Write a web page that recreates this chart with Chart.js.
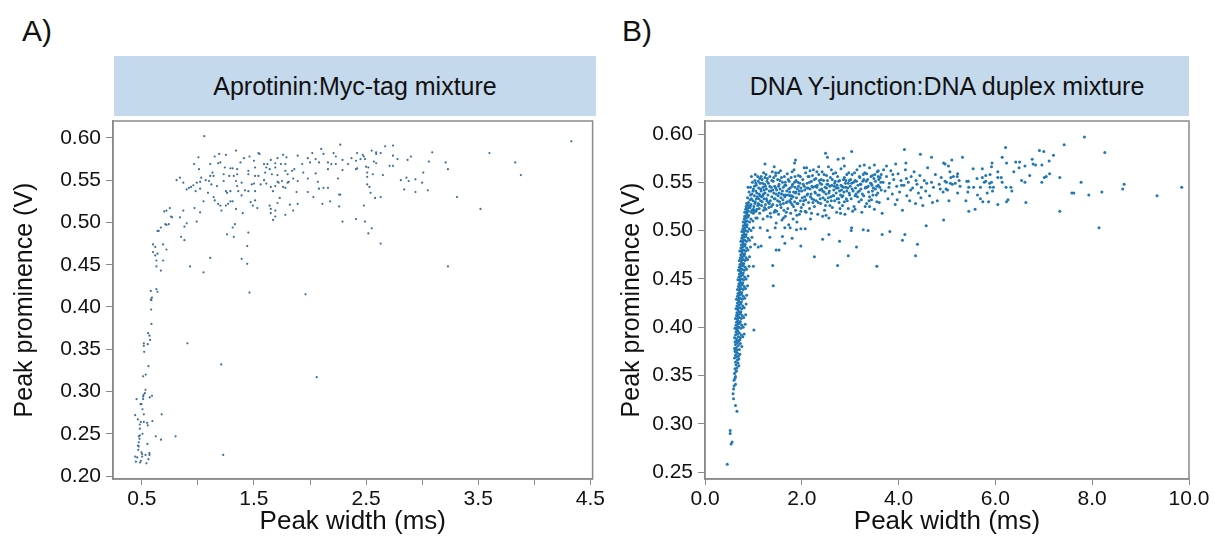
<!DOCTYPE html>
<html>
<head>
<meta charset="utf-8">
<script src="https://cdn.jsdelivr.net/npm/chart.js@4.4.1/dist/chart.umd.min.js"></script>
<style>
  body { margin:0; width:1215px; height:537px; background:#fff; position:relative; overflow:hidden; font-family:"Liberation Sans", Arial, sans-serif; }
  .panel { position:absolute; top:0; height:537px; }
  .tag { position:absolute; top:14px; font-size:30px; color:#111; }
  .head { position:absolute; top:56px; height:60px; background:#c5d9ec; color:#111; font-size:25px; display:flex; align-items:center; justify-content:center; }
</style>
</head>
<body>
<div class="tag" style="left:22px">A)</div>
<div class="tag" style="left:622px">B)</div>
<div class="head" style="left:114px;width:482px">Aprotinin:Myc-tag mixture</div>
<div class="head" style="left:705px;width:484px">DNA Y-junction:DNA duplex mixture</div>
<div class="panel" style="left:0;width:607px"><canvas id="chartA"></canvas></div>
<div class="panel" style="left:607px;width:608px"><canvas id="chartB"></canvas></div>
<script>
// ---- data ----
const titleA = "Aprotinin:Myc-tag mixture";
const titleB = "DNA Y-junction:DNA duplex mixture";
const xLabel = "Peak width (ms)";
const yLabel = "Peak prominence (V)";

// panel A : [peak width ms, prominence V]
const pointsA = [
 [1.057,0.602],[1.34,0.585],[1.19,0.581],[1.25,0.580],[1.005,0.577],[1.15,0.578],[1.46,0.578],[1.54,0.582],[1.55,0.581],[1.41,0.576],
 [0.966,0.569],[1.11,0.569],[1.18,0.570],[1.20,0.571],[1.38,0.571],[1.50,0.573],[1.62,0.569],[1.65,0.574],[1.69,0.570],[1.71,0.576],
 [1.76,0.580],[1.79,0.577],[1.89,0.579],[1.98,0.576],[2.02,0.582],[2.10,0.587],[2.12,0.581],[2.21,0.582],[2.27,0.592],[2.29,0.574],
 [2.23,0.578],[2.05,0.575],[2.16,0.571],[2.08,0.571],[2.00,0.571],[1.93,0.569],[1.86,0.563],[1.84,0.561],[1.78,0.569],[1.74,0.569],
 [1.69,0.565],[1.64,0.563],[1.59,0.569],[1.61,0.565],[1.51,0.565],[1.45,0.561],[1.35,0.563],[1.31,0.564],[1.29,0.564],[1.24,0.565],
 [1.01,0.563],[1.13,0.559],[1.14,0.555],[1.11,0.555],[1.03,0.553],[1.23,0.557],[1.28,0.555],[1.32,0.555],[1.35,0.557],[1.45,0.557],
 [1.51,0.555],[1.54,0.555],[1.60,0.559],[1.66,0.557],[1.71,0.556],[1.78,0.561],[1.80,0.557],[1.85,0.552],[1.94,0.559],[1.98,0.552],
 [2.05,0.558],[2.16,0.563],[2.19,0.569],[2.23,0.569],[2.29,0.562],[2.34,0.569],[2.25,0.552],[0.84,0.553],[0.81,0.550],[0.87,0.547],
 [0.92,0.541],[0.94,0.542],[0.96,0.544],[0.99,0.547],[1.02,0.548],[1.07,0.550],[1.10,0.549],[1.12,0.545],[1.17,0.543],[1.23,0.549],
 [1.25,0.537],[1.26,0.535],[1.29,0.537],[1.34,0.549],[1.35,0.543],[1.36,0.537],[1.39,0.547],[1.39,0.532],[1.42,0.538],[1.45,0.537],
 [1.48,0.545],[1.50,0.546],[1.51,0.537],[1.56,0.545],[1.59,0.550],[1.61,0.546],[1.65,0.542],[1.67,0.537],[1.69,0.543],[1.71,0.548],
 [1.72,0.547],[1.75,0.549],[1.76,0.542],[1.78,0.541],[1.80,0.547],[1.81,0.548],[1.88,0.536],[1.89,0.549],[1.98,0.536],[2.03,0.530],
 [2.07,0.548],[2.08,0.540],[2.12,0.541],[2.16,0.541],[2.27,0.533],[0.90,0.539],[0.98,0.537],[1.02,0.540],[1.05,0.525],[1.09,0.535],
 [1.14,0.530],[1.15,0.526],[1.18,0.522],[1.20,0.520],[1.21,0.514],[1.25,0.520],[1.27,0.522],[1.29,0.525],[1.31,0.525],[1.34,0.516],
 [1.40,0.511],[1.47,0.524],[1.49,0.520],[1.51,0.526],[1.53,0.517],[1.64,0.520],[1.65,0.516],[1.65,0.511],[1.69,0.514],[1.69,0.507],
 [1.71,0.523],[1.73,0.529],[1.67,0.503],[1.78,0.509],[1.82,0.521],[1.85,0.514],[1.89,0.522],[2.11,0.522],[2.18,0.525],[2.26,0.519],
 [2.26,0.533],[2.29,0.501],[0.70,0.513],[0.72,0.514],[0.75,0.517],[0.76,0.507],[0.77,0.506],[0.84,0.506],[0.87,0.514],[0.97,0.517],
 [1.02,0.512],[0.99,0.501],[0.71,0.498],[0.72,0.497],[0.74,0.498],[0.67,0.494],[0.64,0.490],[0.65,0.490],[0.90,0.499],[0.88,0.495],
 [0.85,0.483],[0.88,0.479],[0.60,0.474],[0.62,0.471],[0.69,0.474],[0.72,0.468],[0.60,0.465],[0.64,0.463],[0.62,0.461],[0.63,0.455],
 [0.69,0.455],[0.63,0.448],[0.67,0.443],[0.93,0.448],[1.05,0.441],[1.11,0.458],[1.26,0.486],[1.31,0.494],[1.33,0.498],[1.32,0.483],
 [1.45,0.488],[1.44,0.472],[1.39,0.457],[1.44,0.451],[1.46,0.417],[1.96,0.415],[0.58,0.419],[0.63,0.421],[0.64,0.418],[0.59,0.411],
 [0.58,0.409],[0.585,0.408],
 [0.583,0.397],[0.586,0.380],[0.556,0.369],[0.568,0.366],[0.574,0.361],[0.553,0.356],[0.518,0.357],[0.518,0.354],[0.521,0.347],[0.907,0.357],
 [0.559,0.330],[0.535,0.320],[0.512,0.318],[1.208,0.332],[2.06,0.317],[0.533,0.302],[0.527,0.298],[0.515,0.296],[0.512,0.294],[0.571,0.293],
 [0.591,0.295],[0.453,0.291],[0.512,0.291],[0.488,0.285],[0.497,0.285],[0.506,0.279],[0.441,0.272],[0.518,0.273],[0.677,0.273],[0.465,0.267],
 [0.491,0.264],[0.518,0.264],[0.547,0.263],[0.553,0.260],[0.594,0.265],[0.482,0.261],[0.482,0.256],[0.506,0.250],[0.482,0.248],[0.473,0.247],
 [0.479,0.244],[0.624,0.247],[0.671,0.243],[0.801,0.247],[0.473,0.240],[0.550,0.238],[0.465,0.236],[0.473,0.235],[0.468,0.231],[0.497,0.228],
 [0.503,0.226],[0.568,0.227],[0.568,0.225],[0.441,0.223],[0.459,0.222],[0.503,0.223],[0.533,0.225],[1.226,0.225],[0.559,0.220],[0.491,0.218],
 [0.485,0.216],[0.447,0.217],[0.541,0.215],
 [4.33,0.596],[2.67,0.590],[2.74,0.591],[2.55,0.585],[2.59,0.583],[2.59,0.581],[2.63,0.582],[2.42,0.582],[2.47,0.580],[2.48,0.578],
 [2.49,0.575],[2.45,0.575],[2.37,0.576],[2.41,0.573],[2.57,0.572],[2.59,0.570],[2.74,0.579],[2.78,0.575],[2.87,0.574],[2.90,0.578],
 [3.09,0.583],[3.06,0.572],[3.21,0.571],[3.23,0.563],[3.60,0.582],[3.83,0.571],[3.88,0.556],[2.42,0.564],[2.41,0.563],[2.50,0.566],
 [2.52,0.565],[2.71,0.567],[2.74,0.567],[2.51,0.559],[2.56,0.557],[2.65,0.556],[2.51,0.554],[3.01,0.559],[2.86,0.553],[2.88,0.549],
 [2.81,0.550],[2.94,0.551],[3.00,0.547],[2.51,0.545],[2.53,0.542],[2.84,0.539],[3.05,0.538],[2.94,0.536],[2.54,0.535],[2.58,0.529],
 [2.63,0.530],[3.31,0.530],[2.48,0.520],[3.52,0.516],[2.41,0.504],[2.49,0.501],[2.55,0.493],[2.52,0.487],[2.63,0.475],[3.23,0.448]
];

// panel B : the steep cluster at short widths
const streakB = [
 [0.62,0.357],[0.64,0.361],[0.66,0.358],[0.68,0.363],[0.63,0.364],[0.70,0.360],[0.65,0.355],[0.67,0.366],
 [0.61,0.368],[0.63,0.371],[0.65,0.369],[0.67,0.373],[0.69,0.370],[0.72,0.372],[0.62,0.375],[0.66,0.376],[0.70,0.367],[0.64,0.374],
 [0.61,0.378],[0.63,0.382],[0.65,0.379],[0.67,0.384],[0.69,0.381],[0.71,0.377],[0.73,0.383],[0.76,0.380],[0.62,0.385],[0.66,0.386],[0.70,0.386],[0.64,0.377],
 [0.61,0.389],[0.63,0.392],[0.65,0.388],[0.67,0.393],[0.69,0.390],[0.71,0.394],[0.73,0.389],[0.75,0.392],[0.78,0.390],[0.81,0.393],[0.64,0.395],[0.68,0.396],[0.72,0.387],[0.66,0.397],
 [0.62,0.399],[0.64,0.402],[0.66,0.398],[0.68,0.403],[0.70,0.400],[0.72,0.404],[0.74,0.399],[0.76,0.402],[0.79,0.400],[0.83,0.403],[0.65,0.405],[0.69,0.406],[0.73,0.406],[0.67,0.400],
 [0.63,0.409],[0.65,0.412],[0.67,0.408],[0.69,0.413],[0.71,0.410],[0.73,0.414],[0.75,0.409],[0.77,0.412],[0.80,0.410],[0.84,0.413],[0.66,0.415],[0.70,0.416],[0.74,0.416],[0.68,0.410],
 [0.64,0.419],[0.66,0.422],[0.68,0.418],[0.70,0.423],[0.72,0.420],[0.74,0.424],[0.76,0.419],[0.78,0.422],[0.81,0.420],[0.85,0.424],[0.67,0.425],[0.71,0.426],[0.75,0.426],[0.69,0.420],
 [0.65,0.429],[0.67,0.432],[0.69,0.428],[0.71,0.433],[0.73,0.430],[0.75,0.434],[0.77,0.429],[0.79,0.432],[0.82,0.430],[0.86,0.433],[0.68,0.435],[0.72,0.436],[0.76,0.436],[0.70,0.430],
 [0.67,0.439],[0.69,0.442],[0.71,0.438],[0.73,0.443],[0.75,0.440],[0.77,0.444],[0.79,0.439],[0.81,0.442],[0.84,0.440],[0.88,0.443],[0.70,0.445],[0.74,0.446],[0.78,0.446],[0.72,0.440],
 [0.68,0.449],[0.70,0.452],[0.72,0.448],[0.74,0.453],[0.76,0.450],[0.78,0.454],[0.80,0.449],[0.82,0.452],[0.85,0.450],[0.89,0.453],[0.71,0.455],[0.75,0.456],[0.79,0.456],[0.73,0.450],
 [0.69,0.459],[0.71,0.462],[0.73,0.458],[0.75,0.463],[0.77,0.460],[0.79,0.464],[0.81,0.459],[0.83,0.462],[0.86,0.460],[0.91,0.463],[0.72,0.465],[0.76,0.466],[0.80,0.466],[0.74,0.460],
 [0.71,0.469],[0.73,0.472],[0.75,0.468],[0.77,0.473],[0.79,0.470],[0.81,0.474],[0.83,0.469],[0.85,0.472],[0.88,0.470],[0.92,0.473],[0.74,0.475],[0.78,0.476],[0.82,0.476],[0.76,0.470],
 [0.72,0.479],[0.74,0.482],[0.76,0.478],[0.78,0.483],[0.80,0.480],[0.82,0.484],[0.84,0.479],[0.86,0.482],[0.89,0.480],[0.94,0.483],[0.75,0.485],[0.79,0.486],[0.83,0.486],[0.77,0.480],
 [0.74,0.489],[0.76,0.492],[0.78,0.488],[0.80,0.493],[0.82,0.490],[0.84,0.494],[0.86,0.489],[0.89,0.492],[0.92,0.490],[0.97,0.493],[0.77,0.495],[0.81,0.496],[0.85,0.496],[0.79,0.490],
 [0.76,0.499],[0.78,0.502],[0.80,0.498],[0.82,0.503],[0.84,0.500],[0.86,0.504],[0.88,0.499],[0.91,0.502],[0.95,0.500],[1.00,0.503],[0.79,0.505],[0.83,0.506],[0.87,0.506],[0.81,0.500],
 [0.79,0.509],[0.81,0.512],[0.83,0.508],[0.85,0.513],[0.87,0.510],[0.89,0.514],[0.92,0.509],[0.95,0.512],[0.99,0.510],[1.05,0.513],[0.82,0.515],[0.86,0.516],[0.90,0.516],[0.84,0.510],
 [0.82,0.519],[0.84,0.522],[0.86,0.518],[0.88,0.523],[0.90,0.520],[0.93,0.524],[0.96,0.519],[1.00,0.522],[1.05,0.520],[1.12,0.523],[0.85,0.525],[0.89,0.526],[0.94,0.526],[0.87,0.520],
 [0.61,0.352],[0.63,0.349],[0.60,0.345],[0.63,0.341],[0.59,0.336],[0.58,0.331],[0.59,0.326],[0.63,0.319],[0.66,0.313],[0.52,0.293],
 [0.52,0.290],[0.54,0.279],[0.56,0.281],[0.46,0.258],[0.62,0.347],[0.64,0.354],[0.60,0.339],[1.01,0.397]
];

// panel B : the plateau
const plateauB = [
 [0.86,0.528],[0.88,0.534],[0.90,0.529],[0.91,0.540],[0.93,0.532],[0.94,0.545],[0.95,0.527],[0.97,0.538],[0.98,0.550],[0.99,0.531],
 [1.00,0.543],[1.01,0.525],[1.02,0.536],[1.03,0.552],[1.04,0.530],[1.05,0.541],[1.06,0.547],[1.07,0.522],[1.08,0.535],[1.09,0.556],
 [1.10,0.528],[1.11,0.544],[1.12,0.538],[1.13,0.518],[1.14,0.549],[1.15,0.531],[1.16,0.541],[1.17,0.526],[1.18,0.553],[1.19,0.536],
 [1.20,0.545],[1.21,0.521],[1.22,0.533],[1.23,0.548],[1.24,0.539],[1.25,0.527],[1.26,0.558],[1.27,0.543],[1.28,0.531],[1.29,0.515],
 [0.92,0.524],[0.96,0.556],[1.00,0.518],[1.04,0.558],[1.08,0.513],[1.12,0.527],[1.16,0.556],[1.20,0.512],[1.24,0.555],[1.28,0.551],
 [0.89,0.545],[0.97,0.521],[1.06,0.533],[1.14,0.536],[1.22,0.542],[1.02,0.546],[1.10,0.551],[1.18,0.530],[1.26,0.522],[0.94,0.537],
 [1.30,0.537],[1.31,0.549],[1.32,0.524],[1.33,0.541],[1.34,0.556],[1.35,0.531],[1.36,0.514],[1.37,0.545],[1.38,0.535],[1.39,0.561],
 [1.40,0.527],[1.41,0.551],[1.42,0.539],[1.43,0.519],[1.44,0.546],[1.45,0.533],[1.46,0.557],[1.47,0.508],[1.48,0.542],[1.49,0.526],
 [1.50,0.553],[1.51,0.536],[1.52,0.517],[1.53,0.548],[1.54,0.530],[1.55,0.543],[1.56,0.562],[1.57,0.524],[1.58,0.538],[1.59,0.511],
 [1.60,0.550],[1.61,0.532],[1.62,0.545],[1.63,0.521],[1.64,0.556],[1.65,0.535],[1.66,0.515],[1.67,0.547],[1.68,0.529],[1.69,0.541],
 [1.70,0.559],[1.71,0.523],[1.72,0.537],[1.73,0.506],[1.74,0.551],[1.75,0.531],[1.76,0.544],[1.77,0.518],[1.78,0.555],[1.79,0.536],
 [1.80,0.527],[1.81,0.548],[1.82,0.512],[1.83,0.540],[1.84,0.563],[1.85,0.530],[1.86,0.545],[1.87,0.521],[1.88,0.552],[1.89,0.534],
 [1.90,0.509],[1.91,0.543],[1.92,0.528],[1.93,0.557],[1.94,0.538],[1.95,0.517],[1.96,0.549],[1.97,0.531],[1.98,0.544],[1.99,0.524],
 [1.33,0.528],[1.38,0.552],[1.43,0.533],[1.48,0.520],[1.53,0.539],[1.58,0.555],[1.63,0.537],[1.68,0.519],[1.73,0.543],[1.78,0.533],
 [1.83,0.525],[1.88,0.540],[1.93,0.546],[1.98,0.520],[1.36,0.541],[1.46,0.544],[1.56,0.527],[1.66,0.550],[1.76,0.536],[1.86,0.556],
 [2.00,0.541],[2.02,0.553],[2.03,0.527],[2.05,0.546],[2.06,0.535],[2.08,0.560],[2.09,0.519],[2.11,0.549],[2.12,0.538],[2.14,0.529],
 [2.15,0.556],[2.17,0.543],[2.18,0.512],[2.20,0.551],[2.21,0.533],[2.23,0.545],[2.24,0.563],[2.26,0.525],[2.27,0.540],[2.29,0.554],
 [2.30,0.531],[2.32,0.547],[2.33,0.517],[2.35,0.558],[2.36,0.537],[2.38,0.549],[2.39,0.528],[2.41,0.543],[2.42,0.561],[2.44,0.534],
 [2.45,0.552],[2.47,0.521],[2.48,0.545],[2.50,0.538],[2.51,0.557],[2.53,0.530],[2.54,0.548],[2.56,0.513],[2.57,0.541],[2.59,0.555],
 [2.60,0.535],[2.62,0.547],[2.63,0.524],[2.65,0.559],[2.66,0.542],[2.68,0.531],[2.69,0.551],[2.71,0.539],[2.72,0.519],[2.74,0.556],
 [2.75,0.544],[2.77,0.529],[2.78,0.552],[2.80,0.537],[2.81,0.564],[2.83,0.546],[2.84,0.526],[2.86,0.553],[2.87,0.540],[2.89,0.517],
 [2.90,0.549],[2.92,0.533],[2.93,0.558],[2.95,0.544],[2.96,0.523],[2.98,0.552],[2.99,0.537],[2.04,0.531],[2.10,0.544],[2.16,0.523],
 [2.22,0.557],[2.28,0.546],[2.34,0.529],[2.40,0.553],[2.46,0.540],[2.52,0.548],[2.58,0.526],[2.64,0.536],[2.70,0.560],[2.76,0.533],
 [2.82,0.542],[2.88,0.555],[2.94,0.531],[2.07,0.520],[2.19,0.538],[2.31,0.561],[2.43,0.515],[2.55,0.534],[2.67,0.546],[2.79,0.523],
 [2.91,0.545],[2.13,0.556],[2.25,0.532],[2.37,0.542],[2.49,0.526],[2.61,0.563],[2.73,0.547],[2.85,0.536],[2.97,0.560],
 [3.00,0.546],[3.02,0.533],[3.04,0.558],[3.06,0.541],[3.08,0.525],[3.10,0.552],[3.12,0.538],[3.14,0.563],[3.16,0.547],[3.18,0.530],
 [3.20,0.555],[3.22,0.543],[3.24,0.519],[3.26,0.551],[3.28,0.536],[3.30,0.560],[3.32,0.545],[3.34,0.528],[3.36,0.553],[3.38,0.540],
 [3.40,0.565],[3.42,0.549],[3.44,0.532],[3.46,0.557],[3.48,0.544],[3.50,0.522],[3.52,0.551],[3.54,0.537],[3.56,0.561],[3.58,0.547],
 [3.60,0.529],[3.62,0.555],[3.64,0.542],[3.66,0.518],[3.68,0.550],[3.03,0.549],[3.09,0.560],[3.15,0.535],[3.21,0.548],[3.27,0.558],
 [3.33,0.551],[3.39,0.531],[3.45,0.547],[3.51,0.558],[3.57,0.539],[3.63,0.550],[3.69,0.563],[3.11,0.544],[3.23,0.532],[3.35,0.545],
 [3.47,0.537],[3.59,0.553],[3.05,0.520],[3.19,0.541],[3.31,0.525],[3.43,0.556],[3.55,0.546],
 [3.72,0.541],[3.75,0.556],[3.78,0.533],[3.81,0.549],[3.84,0.562],[3.87,0.538],[3.90,0.553],[3.93,0.527],[3.96,0.546],[3.99,0.559],
 [4.02,0.540],[4.05,0.552],[4.08,0.521],[4.11,0.547],[4.14,0.563],[4.17,0.536],[4.20,0.550],[4.23,0.531],[4.26,0.556],[4.29,0.544],
 [4.32,0.561],[4.35,0.528],[4.38,0.548],[4.41,0.539],[4.44,0.557],[4.47,0.545],[4.50,0.526],[4.53,0.552],[4.56,0.541],[4.60,0.565],
 [4.64,0.536],[4.68,0.550],[4.72,0.545],[4.76,0.558],[4.80,0.531],[4.84,0.548],[4.88,0.555],[4.92,0.540],[3.80,0.545],[3.88,0.558],
 [3.97,0.532],[4.06,0.547],[4.16,0.554],[4.25,0.542],[4.36,0.552],[4.46,0.534],[4.58,0.549],[4.70,0.529],[4.86,0.543],
 // second pass over the densest part of the plateau
 [0.96,0.533],[0.99,0.541],[1.03,0.528],[1.05,0.549],[1.07,0.539],[1.09,0.526],[1.11,0.533],[1.13,0.554],[1.15,0.543],[1.17,0.535],
 [1.19,0.549],[1.21,0.538],[1.23,0.524],[1.25,0.546],[1.27,0.533],[1.29,0.554],[1.31,0.529],[1.34,0.546],[1.37,0.525],[1.40,0.542],
 [1.42,0.555],[1.45,0.521],[1.47,0.538],[1.50,0.531],[1.52,0.546],[1.55,0.552],[1.57,0.534],[1.60,0.541],[1.62,0.528],[1.65,0.547],
 [1.67,0.537],[1.70,0.530],[1.72,0.553],[1.75,0.540],[1.77,0.529],[1.80,0.546],[1.82,0.535],[1.85,0.550],[1.87,0.539],[1.90,0.528],
 [1.92,0.550],[1.95,0.541],[1.97,0.556],[2.01,0.534],[2.03,0.548],[2.06,0.542],[2.08,0.532],[2.11,0.537],[2.13,0.544],[2.16,0.550],
 [2.18,0.535],[2.21,0.546],[2.23,0.529],[2.26,0.553],[2.28,0.539],[2.31,0.545],[2.33,0.537],[2.36,0.552],[2.38,0.533],[2.41,0.548],
 [2.43,0.541],[2.46,0.558],[2.48,0.532],[2.51,0.544],[2.53,0.552],[2.56,0.539],[2.58,0.546],[2.61,0.531],[2.63,0.553],[2.66,0.536],
 [2.68,0.549],[2.71,0.544],[2.73,0.533],[2.76,0.551],[2.78,0.541],[2.81,0.547],[2.83,0.535],[2.86,0.545],[2.88,0.530],[2.91,0.552],
 [2.93,0.541],[2.96,0.549],[2.98,0.539],[3.01,0.553],[3.04,0.543],[3.07,0.550],[3.10,0.536],[3.13,0.551],[3.16,0.540],[3.19,0.556],
 [3.22,0.548],[3.25,0.538],[3.28,0.553],[3.31,0.544],[3.34,0.559],[3.37,0.546],[3.40,0.535],[3.43,0.549],[3.46,0.541],[3.49,0.554],
 [3.52,0.543],[3.55,0.530],[3.58,0.556],[3.61,0.545],[3.64,0.558],[1.02,0.520],[1.35,0.518],[1.62,0.513],[1.90,0.516],[2.20,0.518],
 [2.50,0.516],[2.80,0.518],[3.10,0.522],[3.40,0.525],[1.52,0.560],[1.80,0.561],[2.05,0.565],[2.35,0.566],[2.55,0.566],[2.88,0.567],
 [3.20,0.567],[3.50,0.568]
];

// panel B : scattered points around / beyond the plateau
const scatterB = [
 [1.24,0.569],[1.43,0.566],[1.85,0.570],[1.87,0.573],[2.10,0.565],[2.17,0.562],[2.49,0.580],[2.53,0.576],[2.75,0.574],[2.86,0.575],
 [3.03,0.582],[3.29,0.568],[3.58,0.562],[3.75,0.567],[3.94,0.569],[4.12,0.584],[4.15,0.570],[4.45,0.579],[4.68,0.576],[4.93,0.570],
 [1.21,0.560],[1.46,0.560],
 [1.14,0.503],[1.29,0.500],[1.34,0.493],[1.45,0.503],[1.60,0.494],[1.65,0.503],[1.76,0.503],[1.89,0.501],[1.98,0.502],[2.07,0.502],
 [1.80,0.492],[1.65,0.487],[1.98,0.484],[2.43,0.491],[2.56,0.496],[2.78,0.489],[3.02,0.500],[3.03,0.503],[3.13,0.483],[3.27,0.501],
 [3.37,0.500],[3.66,0.496],[3.82,0.499],[4.08,0.490],[4.13,0.496],[4.39,0.486],[4.57,0.505],[4.93,0.511],[1.47,0.480],[1.53,0.480],
 [1.16,0.484],[1.10,0.483],[1.03,0.486],[1.00,0.463],[1.40,0.464],[1.41,0.443],[2.26,0.473],[2.74,0.464],[2.96,0.474],[3.55,0.463],
 [4.35,0.474],
 [4.96,0.569],[5.03,0.567],[5.10,0.573],[5.32,0.576],[5.06,0.561],[5.22,0.559],[5.13,0.556],[5.08,0.555],[5.21,0.556],[4.96,0.551],
 [4.99,0.550],[5.07,0.549],[5.11,0.548],[5.17,0.549],[5.25,0.552],[5.27,0.546],[5.41,0.551],[5.44,0.551],[4.98,0.543],[5.01,0.542],
 [5.22,0.539],[5.45,0.545],[5.43,0.540],[5.39,0.531],[5.04,0.531],[5.45,0.520],[5.58,0.522],[5.54,0.564],[5.73,0.564],[5.62,0.554],
 [5.73,0.555],[5.80,0.557],[5.89,0.558],[5.92,0.566],[5.93,0.570],[6.05,0.561],[6.14,0.576],[6.21,0.586],[6.23,0.570],[6.05,0.555],
 [6.12,0.555],[6.14,0.550],[5.92,0.550],[5.88,0.549],[5.80,0.551],[5.77,0.550],[5.55,0.545],[5.69,0.545],[5.89,0.545],[5.96,0.545],
 [5.94,0.541],[5.83,0.539],[5.63,0.537],[5.69,0.533],[5.74,0.530],[5.86,0.530],[6.05,0.527],[6.22,0.545],[6.32,0.545],[6.34,0.541],
 [6.23,0.530],[6.26,0.532],[6.38,0.561],[6.42,0.571],[6.50,0.571],[6.49,0.565],[6.54,0.552],[6.61,0.550],[6.63,0.529],[6.61,0.567],
 [6.71,0.557],[6.76,0.574],[6.78,0.569],[6.83,0.568],[6.91,0.583],[7.00,0.582],[6.96,0.568],[6.96,0.550],[7.01,0.555],[7.05,0.556],
 [7.12,0.559],[7.11,0.572],[7.20,0.578],[7.42,0.589],[7.33,0.555],[7.33,0.520],[7.58,0.539],[7.62,0.539],[7.77,0.550],[7.84,0.597],
 [7.93,0.537],[8.14,0.503],[8.20,0.540],[8.26,0.581],[8.63,0.543],[8.66,0.548],[9.34,0.536],[9.85,0.545]
];

// axis ranges and tick steps
const xRangeA = [0.243, 4.52], yRangeA = [0.1965, 0.620];
const xRangeB = [0, 10], yRangeB = [0.2428, 0.6135];
const xStepA = 0.5, yStepA = 0.05, xStepB = 2, yStepB = 0.05;

const toXY = p => ({ x: p[0], y: p[1] });
const FONT = '"Liberation Sans", Arial, sans-serif';
const GREY = '#8a8a8a';

const frame = {
  id: 'frame',
  afterDraw(chart) {
    const { ctx, chartArea: a } = chart;
    ctx.save();
    ctx.strokeStyle = GREY;
    ctx.lineWidth = 1.5;
    ctx.strokeRect(a.left, a.top, a.right - a.left, a.bottom - a.top);
    ctx.restore();
  }
};

function makeChart(id, data, color, radius, xr, yr, xStep, yStep, xFmt, leftW, rightPad) {
  return new Chart(document.getElementById(id), {
    type: 'scatter',
    data: { datasets: [{ data: data.map(toXY), backgroundColor: color, pointRadius: radius, pointBorderWidth: 0, pointHoverRadius: radius }] },
    options: {
      responsive: true,
      maintainAspectRatio: false,
      animation: false,
      events: [],
      layout: { padding: { top: 121, right: rightPad, bottom: 0, left: 0 } },
      plugins: { legend: { display: false }, tooltip: { enabled: false } },
      scales: {
        x: {
          type: 'linear', min: xr[0], max: xr[1],
          afterFit: s => { s.height = 58; },
          border: { display: true, color: GREY, width: 1.5 },
          grid: { display: true, drawOnChartArea: false, drawTicks: true, tickLength: 6, color: GREY },
          ticks: { stepSize: xStep, includeBounds: false, autoSkip: false, maxRotation: 0, padding: 2, color: '#111',
                   font: { family: FONT, size: 21 }, callback: xFmt },
          title: { display: true, text: xLabel, color: '#111', font: { family: FONT, size: 26 }, padding: { top: 0, bottom: 0 } }
        },
        y: {
          type: 'linear', min: yr[0], max: yr[1],
          afterFit: s => { s.width = leftW; },
          border: { display: true, color: GREY, width: 1.5 },
          grid: { display: true, drawOnChartArea: false, drawTicks: true, tickLength: 7, color: GREY },
          ticks: { stepSize: yStep, includeBounds: false, autoSkip: false, padding: 5, color: '#111',
                   font: { family: FONT, size: 21 }, callback: v => v.toFixed(2) },
          title: { display: true, text: yLabel, color: '#111', font: { family: FONT, size: 25 }, padding: { top: 10, bottom: 0 } }
        }
      }
    },
    plugins: [frame]
  });
}

makeChart('chartA', pointsA, '#3f6d99', 1.1, xRangeA, yRangeA, xStepA, yStepA,
  v => (Math.round(v * 2) % 2 === 1 ? v.toFixed(1) : ''), 113, 11);

makeChart('chartB', streakB.concat(plateauB, scatterB), '#1f77b4', 1.5, xRangeB, yRangeB, xStepB, yStepB,
  v => v.toFixed(1), 98, 26);
</script>
</body>
</html>
